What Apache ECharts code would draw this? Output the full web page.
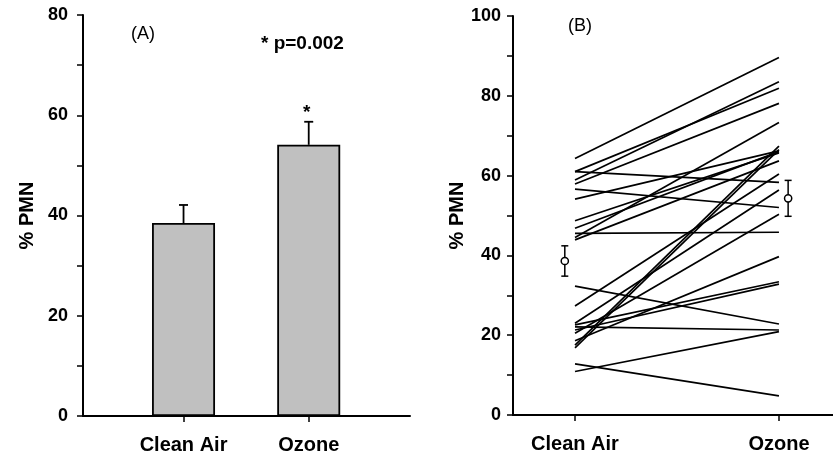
<!DOCTYPE html>
<html>
<head>
<meta charset="utf-8">
<script src="https://cdn.jsdelivr.net/npm/echarts@6/dist/echarts.min.js"></script>
<style>
html,body{margin:0;padding:0;background:#fff;}
#chart{width:833px;height:461px;}
</style>
</head>
<body>
<div id="chart"></div>
<script>
// ---- data ----
const categories = ['Clean Air', 'Ozone'];
// Panel A: group means and SEM
const meanPMN = [38.5, 54.1];
const semPMN = [3.6, 4.6];
// Panel B: individual subjects (clean air -> ozone)
const cleanAir = [64.3, 61.0, 61.0, 58.9, 57.9, 56.6, 54.1, 48.7, 46.8, 45.5, 44.5, 43.9,
                  32.3, 27.3, 23.0, 22.6, 22.1, 21.3, 20.5, 18.6, 17.5, 16.8, 12.8, 10.9];
const ozone    = [89.6, 81.9, 58.3, 83.5, 78.1, 52.0, 66.2, 65.7, 66.0, 45.8, 73.3, 63.7,
                  22.8, 60.4, 56.4, 33.4, 21.3, 32.8, 50.3, 39.7, 67.4, 66.5, 4.8, 20.9];
// Panel B: means with SEM (both directions)
const meanB = [38.6, 54.3];
const semB = [3.8, 4.5];
const meanBOffset = [-0.05, 1.045];
const yTicksA = [0, 20, 40, 60, 80];
const yTicksB = [0, 20, 40, 60, 80, 100];

const FONT = 'Liberation Sans, Arial, sans-serif';
const chart = echarts.init(document.getElementById('chart'));

function yAxisCfg(gridIndex, max, ticks, margin) {
  return {
    type: 'value', gridIndex, min: 0, max, interval: 10,
    name: '% PMN', nameLocation: 'middle', nameGap: 46, nameRotate: 90,
    nameTextStyle: {fontFamily: FONT, fontWeight: 'bold', fontSize: 20, color: '#000'},
    axisLine: {show: true, onZero: false, lineStyle: {color: '#000', width: 2}},
    axisTick: {show: true, inside: false, length: 6, lineStyle: {color: '#000', width: 1.5}},
    axisLabel: {
      margin, color: '#000', fontFamily: FONT, fontWeight: 'bold', fontSize: 18,
      formatter: v => ticks.indexOf(v) >= 0 ? String(v) : ''
    },
    splitLine: {show: false}
  };
}
function xAxisCfg(gridIndex, min, max) {
  return {
    type: 'value', gridIndex, min, max,
    axisLine: {show: true, onZero: false, lineStyle: {color: '#000', width: 2}},
    axisTick: {show: true, inside: false, length: 6, customValues: [0, 1], lineStyle: {color: '#000', width: 1.5}},
    axisLabel: {
      show: true, customValues: [0, 1], margin: 19, color: '#000',
      fontFamily: FONT, fontWeight: 'bold', fontSize: 20,
      formatter: v => categories[Math.round(v)]
    },
    splitLine: {show: false}
  };
}

const lineSeries = cleanAir.map((v, i) => ({
  type: 'line', xAxisIndex: 1, yAxisIndex: 1, silent: true,
  symbol: 'none', animation: false,
  lineStyle: {color: '#000', width: 1.7},
  data: [[0, v], [1, ozone[i]]]
}));

const option = {
  animation: false,
  backgroundColor: '#fff',
  grid: [
    {left: 83, top: 15, width: 327, bottom: 45},
    {left: 513, top: 16, right: 0, bottom: 46}
  ],
  xAxis: [xAxisCfg(0, -0.803, 1.809), xAxisCfg(1, -0.304, 1.265)],
  yAxis: [yAxisCfg(0, 80, yTicksA, 15), yAxisCfg(1, 100, yTicksB, 12)],
  series: [
    {
      type: 'bar', xAxisIndex: 0, yAxisIndex: 0, barWidth: 63, silent: true,
      itemStyle: {color: '#c0c0c0', borderColor: '#000', borderWidth: 1.8},
      data: meanPMN.map((v, i) => [i, v])
    },
    {
      type: 'custom', xAxisIndex: 0, yAxisIndex: 0, silent: true, z: 3,
      data: meanPMN.map((v, i) => [i, v, semPMN[i]]),
      renderItem: (params, api) => {
        const x = api.value(0), m = api.value(1), e = api.value(2);
        const b = api.coord([x, m]), t = api.coord([x, m + e]);
        const st = {stroke: '#000', lineWidth: 1.8};
        return {type: 'group', children: [
          {type: 'line', shape: {x1: b[0], y1: b[1], x2: t[0], y2: t[1]}, style: st},
          {type: 'line', shape: {x1: t[0] - 4.5, y1: t[1], x2: t[0] + 4.5, y2: t[1]}, style: st}
        ]};
      }
    },
    ...lineSeries,
    {
      type: 'custom', xAxisIndex: 1, yAxisIndex: 1, silent: true, z: 4,
      data: meanB.map((v, i) => [meanBOffset[i], v, semB[i]]),
      renderItem: (params, api) => {
        const x = api.value(0), m = api.value(1), e = api.value(2);
        const c = api.coord([x, m]), t = api.coord([x, m + e]), lo = api.coord([x, m - e]);
        const st = {stroke: '#000', lineWidth: 1.5};
        return {type: 'group', children: [
          {type: 'line', shape: {x1: t[0], y1: t[1], x2: lo[0], y2: lo[1]}, style: st},
          {type: 'line', shape: {x1: t[0] - 3.5, y1: t[1], x2: t[0] + 3.5, y2: t[1]}, style: st},
          {type: 'line', shape: {x1: lo[0] - 3.5, y1: lo[1], x2: lo[0] + 3.5, y2: lo[1]}, style: st},
          {type: 'circle', shape: {cx: c[0], cy: c[1], r: 3.6}, style: {fill: '#fff', stroke: '#000', lineWidth: 1.5}}
        ]};
      }
    }
  ],
  graphic: [
    {type: 'text', left: 131, top: 25, style: {text: '(A)', font: '18px ' + FONT, fill: '#000'}},
    {type: 'text', left: 261, top: 34, style: {text: '* p=0.002', font: 'bold 19px ' + FONT, fill: '#000'}},
    {type: 'text', left: 303, top: 103, style: {text: '*', font: 'bold 19px ' + FONT, fill: '#000'}},
    {type: 'text', left: 568, top: 17, style: {text: '(B)', font: '18px ' + FONT, fill: '#000'}}
  ]
};
chart.setOption(option);
</script>
</body>
</html>
